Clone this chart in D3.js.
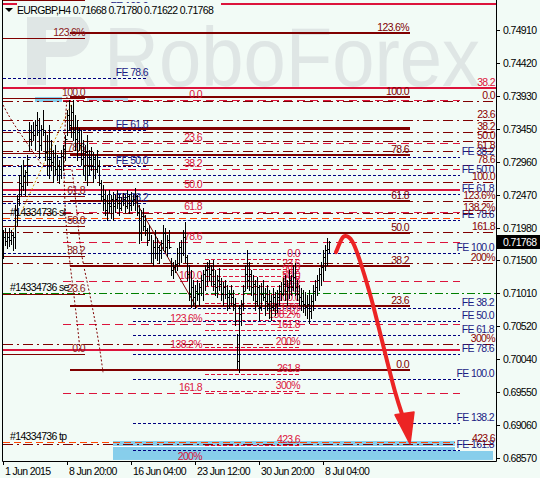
<!DOCTYPE html>
<html><head><meta charset="utf-8">
<script src="https://cdn.jsdelivr.net/npm/d3@7"></script>
<style>
html,body{margin:0;padding:0;background:#f2fbf6;}
svg{display:block;font-family:"Liberation Sans",Arial,sans-serif;}
text{letter-spacing:-0.65px;}
</style></head><body>
<svg id="c" width="540" height="478"></svg>
<script>
// ---------------- DATA ----------------
const symbol = "EURGBP,H4";
const lastOHLC = [0.71668, 0.71780, 0.71622, 0.71768];
const firstOpen = 0.7160;
const barHigh = [
.7195,.7198,.7192,.7198,.7195,.7192,.7232,.7247,.7276,.7291,
.7298,.7284,.7306,.7355,.7350,.7355,.7358,.7369,.7361,.7350,
.7372,.7343,.7335,.7350,.7328,.7313,.7321,.7306,.7298,.7313,
.7321,.7335,.7372,.7387,.7380,.7387,.7365,.7358,.7346,.7343,
.7328,.7321,.7335,.7313,.7317,.7310,.7306,.7313,.7298,.7269,
.7261,.7254,.7247,.7254,.7247,.7251,.7247,.7254,.7247,.7243,
.7250,.7247,.7254,.7246,.7251,.7247,.7257,.7247,.7232,.7224,
.7228,.7217,.7198,.7202,.7187,.7180,.7195,.7183,.7173,.7180,
.7202,.7198,.7187,.7195,.7153,.7147,.7150,.7168,.7177,.7180,
.7195,.7207,.7158,.7143,.7136,.7121,.7113,.7121,.7116,.7128,
.7136,.7143,.7147,.7150,.7143,.7150,.7136,.7128,.7139,.7124,
.7118,.7121,.7113,.7106,.7113,.7106,.7094,.7040,.7084,.7091,
.7113,.7143,.7165,.7147,.7136,.7128,.7121,.7125,.7113,.7116,
.7121,.7109,.7113,.7106,.7099,.7109,.7103,.7106,.7113,.7118,
.7124,.7128,.7121,.7136,.7128,.7143,.7146,.7121,.7113,.7109,
.7106,.7103,.7099,.7106,.7099,.7113,.7121,.7128,.7139,.7147,
.7165,.7173,.7183,.71780];
const barLow = [
.7153,.7173,.7168,.7171,.7174,.7165,.7168,.7202,.7232,.7247,
.7254,.7247,.7261,.7313,.7321,.7328,.7313,.7335,.7301,.7313,
.7335,.7298,.7276,.7272,.7284,.7266,.7276,.7269,.7264,.7272,
.7284,.7298,.7335,.7343,.7332,.7328,.7313,.7298,.7313,.7291,
.7276,.7269,.7261,.7276,.7284,.7266,.7272,.7281,.7261,.7239,
.7224,.7217,.7210,.7221,.7213,.7210,.7221,.7228,.7217,.7224,
.7232,.7221,.7228,.7220,.7224,.7232,.7224,.7217,.7176,.7180,
.7195,.7187,.7173,.7180,.7147,.7143,.7153,.7150,.7146,.7153,
.7165,.7162,.7156,.7168,.7128,.7124,.7133,.7136,.7143,.7147,
.7158,.7147,.7121,.7091,.7081,.7084,.7079,.7091,.7084,.7099,
.7091,.7106,.7113,.7121,.7113,.7106,.7099,.7096,.7106,.7091,
.7084,.7094,.7076,.7079,.7084,.7076,.7054,.6990,.6984,.7054,
.7076,.7106,.7109,.7106,.7099,.7091,.7076,.7084,.7061,.7076,
.7091,.7069,.7076,.7065,.7061,.7076,.7069,.7073,.7084,.7091,
.7099,.7091,.7084,.7094,.7099,.7106,.7099,.7091,.7084,.7076,
.7073,.7069,.7065,.7057,.7065,.7076,.7091,.7099,.7106,.7113,
.7121,.7136,.7143,.71622];
const barClose = [
.7185,.7178,.7185,.7180,.7188,.7185,.7225,.7240,.7265,.7260,
.7275,.7280,.7300,.7330,.7340,.7335,.7350,.7340,.7320,.7345,
.7340,.7310,.7300,.7300,.7295,.7290,.7285,.7290,.7285,.7305,
.7315,.7330,.7365,.7350,.7370,.7340,.7330,.7340,.7320,.7300,
.7290,.7310,.7290,.7300,.7290,.7300,.7285,.7290,.7265,.7245,
.7240,.7225,.7235,.7230,.7240,.7230,.7240,.7235,.7228,.7238,
.7240,.7230,.7245,.7232,.7238,.7240,.7245,.7222,.7190,.7215,
.7200,.7195,.7180,.7190,.7160,.7170,.7160,.7170,.7165,.7175,
.7190,.7170,.7180,.7170,.7135,.7140,.7145,.7160,.7170,.7160,
.7185,.7155,.7130,.7100,.7110,.7095,.7105,.7100,.7110,.7120,
.7130,.7135,.7140,.7130,.7135,.7115,.7110,.7120,.7115,.7100,
.7110,.7100,.7095,.7100,.7095,.7085,.7060,.7000,.7070,.7085,
.7105,.7130,.7120,.7130,.7110,.7115,.7090,.7110,.7080,.7100,
.7095,.7090,.7085,.7090,.7080,.7095,.7085,.7095,.7105,.7100,
.7115,.7105,.7110,.7120,.7110,.7125,.7110,.7100,.7095,.7090,
.7085,.7080,.7085,.7075,.7090,.7105,.7110,.7120,.7130,.7140,
.7155,.7165,.71668,.71768];

const timeTickIndex  = [0, 32, 64, 96, 128, 160];
const timeTickLabels = ["1 Jun 2015","8 Jun 20:00","16 Jun 04:00","23 Jun 12:00","30 Jun 20:00","8 Jul 04:00"];
const priceTicks = [0.74910,0.74420,0.73930,0.73450,0.72960,0.72470,0.71980,0.71500,0.71010,0.70520,0.70040,0.69550,0.69060,0.68570];

// Fibonacci retracement tools: anchors = [price at 0%, price at 100%], span = [from bar, to bar]
const fibMainAnchors = [0.69874, 0.73918];
const fibMainRatios  = [0, 23.6, 38.2, 50, 61.8, 78.6, 88.6, 100, 123.6];
const fibMainLabels  = ["0.0","23.6","38.2","50.0","61.8","78.6","","100.0","123.6%"];
const fibMainSpan    = [33.5, 203.5];

const fibLeftAnchors = [0.70111, 0.73903];
const fibLeftRatios  = [0, 23.6, 38.2, 50, 61.8, 78.6, 100, 123.6, 138.2];
const fibLeftLabels  = ["0.0","23.6","38.2","50.0","61.8","78.6","100.0","123.6%","138.2%"];
const fibLeftSpan    = [0, 41];

const fibRedAnchors  = [0.73873, 0.71192];
const fibRedRatios   = [0, 23.6, 38.2, 50, 61.8, 78.6, 100, 123.6, 138.2, 161.8, 200];
const fibRedLabels   = ["0.0","23.6","38.2","50.0","61.8","78.6","100.0","123.6%","138.2%","161.8","200%"];
const fibRedSpan     = [30, 228.5];
const fibRedLabelAt  = 99.5;
const fibRedSolid    = [50, 138.2];

const fibRightAnchors = [0.73858, 0.72659];
const fibRightRatios  = [0, 23.6, 38.2, 50, 61.8, 78.6, 100, 123.6, 138.2, 161.8, 200, 300, 423.6];
const fibRightLabels  = ["0.0","23.6","38.2","50.0","61.8","78.6","100.0","123.6%","138.2%","161.8","200%","300%","423.6"];
const fibRightSpan    = [0, 246.5];

const fibSmallAnchors = [0.71518, 0.70866];
const fibSmallRatios  = [0, 23.6, 38.2, 50, 61.8, 78.6, 100, 123.6, 138.2, 161.8, 200, 261.8, 300, 423.6];
const fibSmallLabels  = ["0.0","23.6","38.2","50.0","61.8","78.6","100.0","123.6%","138.2%","161.8","200%","261.8","300%","423.6"];
const fibSmallSpan    = [101, 148.5];

// Fibonacci expansions: anchors = [price at FE 0, price at FE 100]
const feLeftAnchors = [0.70600, 0.75177];
const feLeftRatios  = [38.2, 50, 61.8, 78.6, 100];
const feLeftSpan    = [0, 72.5];
const feTopAnchors  = [0.73903, 0.71607];
const feTopRatios   = [38.2, 50, 61.8, 78.6, 100];
const feTopSpan     = [0, 228.5];
const feLowAnchors  = [0.71444, 0.69741];
const feLowRatios   = [38.2, 50, 61.8, 78.6, 100, 138.2, 161.8];
const feLowSpan     = [65, 228.5];

// extra crimson levels
const extraLevelPrices = [0.75295, 0.74052];
const extraLevelLabels = ["", "38.2"];
const extraLevelSpans  = [[0, 246.5], [0, 246.5]];

// order #14334736
const orderId = "#14334736";
const orderEntry = 0.71014, orderSL = 0.72125, orderTP = 0.68807;

// zones [fromBar, toBar, priceTop, priceBottom]
const zones = [[16, 29.5, 0.73918, 0.73844], [42, 62.5, 0.73903, 0.73858],
               [55, 226, 0.68822, 0.68674], [55, 245, 0.68674, 0.68541]];
const zoneSplitPrice = 0.68748;

// trend lines [bar, price]
const trendOrange = [[5, 0.7195], [34.5, 0.7383]];
const trendMaroon = [[66, 0.7239], [97, 0.7079]];
const arcA = [[32,.7392],[30.5,.7328],[30.5,.7254],[32,.7180],[34.5,.7121],[37,.7061],[38.5,.7017]];
const arcB = [[34.5,.7284],[37,.7224],[38.5,.7165],[42.5,.7113],[46,.7061],[48.5,.7017],[50,.6984]];
const arcC = [[0,.7380],[4.5,.7355],[11,.7328],[19.5,.7291]];

// forecast arrow [bar, price]
const forecastPath = [[166.5,.7162],[169.5,.7184],[171,.7187],[174.5,.7183],[178.5,.7150],[183.5,.7101],[187,.7061],[191,.7013],[196,.6953],[200.5,.6913]];
const forecastHead = [[196,.6921],[205.5,.6925],[203.5,.6878]];

// ---------------- DRAW ----------------
const W = 540, H = 478;
const BG = "#f2fbf6";
const FS = 10.5;
const svg = d3.select("#c");
const x = d3.scaleLinear().domain([0, 246.5]).range([3, 496]);
const y = d3.scaleLinear().domain([0.6857, 0.7491]).range([458, 30]);
const Yp = (p, w) => { const v = Math.round(y(p)); return (w % 2 === 1) ? v + 0.5 : v; };

svg.append("rect").attr("width", W).attr("height", H).attr("fill", BG);
svg.append("defs").append("clipPath").attr("id", "clip")
  .append("rect").attr("x", 3).attr("y", 0).attr("width", 493).attr("height", 461);
const g = svg.append("g").attr("clip-path", "url(#clip)");

// watermark
const wm = g.append("g").attr("fill", "#dfe6e5");
wm.append("path").attr("fill-rule", "evenodd")
  .attr("d", "M27,13 H68 A22,22 0 0 1 68,57 H46 V85 H27 Z M46,30 H66 A7,9 0 0 1 66,42 H46 Z");
wm.append("text").attr("x", 104).attr("y", 86).attr("font-size", 84)
  .attr("textLength", 376).attr("lengthAdjust", "spacingAndGlyphs")
  .style("letter-spacing", "0px").text("RoboForex");

// zones
zones.forEach((z, k) => {
  g.append("rect").attr("x", x(z[0])).attr("width", x(z[1]) - x(z[0]))
    .attr("y", y(z[2])).attr("height", y(z[3]) - y(z[2]))
    .attr("fill", k === 1 ? "#b4def0" : "#87ceeb");
});
g.append("line").attr("x1", x(zones[2][0])).attr("x2", x(zones[2][1]))
  .attr("y1", Yp(zoneSplitPrice, 1)).attr("y2", Yp(zoneSplitPrice, 1))
  .attr("stroke", "#ffffff").attr("stroke-width", 1);

function hline(price, from, to, color, width, dash) {
  const yy = Yp(price, width);
  g.append("line").attr("x1", x(from)).attr("x2", x(to)).attr("y1", yy).attr("y2", yy)
    .attr("stroke", color).attr("stroke-width", width)
    .attr("stroke-dasharray", dash || null);
}
const labelsLayer = [];
function label(txt, px, price, color, anchor) {
  if (!txt) return;
  labelsLayer.push({txt, px, py: Yp(price, 1) - 2.5, color, anchor: anchor || "end"});
}
const lev = (a, r) => a[0] + r / 100 * (a[1] - a[0]);

// FE sets (navy dotted)
const NAVY = "#000080", NAVYT = "#1c1c84";
feLeftRatios.forEach(r => { const p = lev(feLeftAnchors, r);
  hline(p, feLeftSpan[0], feLeftSpan[1], NAVY, 1, "3,2");
  label("FE " + r.toFixed(1), x(feLeftSpan[1]), p, NAVYT); });
feTopRatios.forEach(r => { const p = lev(feTopAnchors, r);
  hline(p, feTopSpan[0], feTopSpan[1], NAVY, 1, "3,2");
  label("FE " + r.toFixed(1), 494, p, NAVYT); });
feLowRatios.forEach(r => { const p = lev(feLowAnchors, r);
  hline(p, feLowSpan[0], feLowSpan[1], NAVY, 1, "3,2");
  label("FE " + r.toFixed(1), 494, p, NAVYT); });

// right fibo (maroon dash-dot)
const MAROON = "#800000", CRIMSON = "#dc143c";
fibRightRatios.forEach((r, k) => { const p = lev(fibRightAnchors, r);
  hline(p, fibRightSpan[0], fibRightSpan[1], MAROON, 1, "10,4,2,4");
  label(fibRightLabels[k], 495, p, "#8b0000"); });

// crimson fibo
fibRedRatios.forEach((r, k) => { const p = lev(fibRedAnchors, r);
  if (fibRedSolid.includes(r)) hline(p, 0, fibRedSpan[1], CRIMSON, 2);
  else hline(p, fibRedSpan[0], fibRedSpan[1], CRIMSON, 1, "8,5");
  label(fibRedLabels[k], x(fibRedLabelAt), p, CRIMSON); });

// small crimson fibo
fibSmallRatios.forEach((r, k) => { const p = lev(fibSmallAnchors, r);
  hline(p, fibSmallSpan[0], fibSmallSpan[1], CRIMSON, 1, "4,2");
  label(fibSmallLabels[k], x(fibSmallSpan[1]), p, CRIMSON); });

// extra crimson solid
extraLevelPrices.forEach((p, k) => {
  hline(p, extraLevelSpans[k][0], extraLevelSpans[k][1], CRIMSON, 2);
  label(extraLevelLabels[k], 495, p, CRIMSON); });

// left fibo (thin maroon)
fibLeftRatios.forEach((r, k) => { const p = lev(fibLeftAnchors, r);
  hline(p, fibLeftSpan[0], fibLeftSpan[1], MAROON, 1);
  label(fibLeftLabels[k], x(fibLeftSpan[1]), p, "#8b1a1a"); });

// main fibo (thick maroon)
fibMainRatios.forEach((r, k) => { const p = lev(fibMainAnchors, r);
  hline(p, fibMainSpan[0], fibMainSpan[1], MAROON, r === 88.6 ? 3 : 2);
  label(fibMainLabels[k], x(fibMainSpan[1]) - 1, p, MAROON); });

// order lines
hline(orderEntry, 0, 246.5, "#008000", 1, "8,3,2,3");
hline(orderSL, 0, 228.5, "#ff4500", 1, "7,4");
hline(orderTP, 0, 226, "#ff4500", 1, "7,4");
label(orderId + " se", 10, orderEntry, "#000", "start");
label(orderId + " sl", 10, orderSL, "#000", "start");
label(orderId + " tp", 10, orderTP, "#000", "start");

// trend lines & arcs
const lineGen = d3.line().x(d => x(d[0])).y(d => y(d[1]));
g.append("path").attr("d", lineGen(trendOrange)).attr("fill", "none")
  .attr("stroke", "#d4900c").attr("stroke-width", 1).attr("stroke-dasharray", "2,2");
g.append("path").attr("d", lineGen(trendMaroon)).attr("fill", "none")
  .attr("stroke", MAROON).attr("stroke-width", 1);
const curveGen = d3.line().x(d => x(d[0])).y(d => y(d[1])).curve(d3.curveBasis);
[arcA, arcB, arcC].forEach(a => g.append("path").attr("d", curveGen(a)).attr("fill", "none")
  .attr("stroke", MAROON).attr("stroke-width", 1).attr("stroke-dasharray", "2,2"));

// labels
g.append("g").selectAll("text").data(labelsLayer).join("text")
  .attr("x", d => d.px).attr("y", d => d.py).attr("text-anchor", d => d.anchor)
  .attr("font-size", FS).attr("fill", d => d.color).text(d => d.txt);

// OHLC bars
const bars = barHigh.map((h, i) => ({i, h, l: barLow[i], c: barClose[i], o: i === 0 ? firstOpen : barClose[i - 1]}));
const bg = g.append("g").attr("stroke", "#000").attr("stroke-width", 1);
bars.forEach(b => {
  const bx = Math.round(x(b.i)) + 0.5;
  bg.append("line").attr("x1", bx).attr("x2", bx).attr("y1", Math.round(y(b.h))).attr("y2", Math.round(y(b.l)) + 1);
  bg.append("line").attr("x1", bx - 1.5).attr("x2", bx).attr("y1", Yp(b.o, 1)).attr("y2", Yp(b.o, 1));
  bg.append("line").attr("x1", bx).attr("x2", bx + 1.5).attr("y1", Yp(b.c, 1)).attr("y2", Yp(b.c, 1));
});

// forecast arrow
g.append("path").attr("d", curveGen(forecastPath)).attr("fill", "none")
  .attr("stroke", "#ec2424").attr("stroke-width", 4).attr("stroke-linecap", "round");
g.append("path").attr("d", d3.line().x(d => x(d[0])).y(d => y(d[1]))(forecastHead) + "Z")
  .attr("fill", "#ec2424").attr("stroke", "#ec2424").attr("stroke-width", 1.5).attr("stroke-linejoin", "round");

// header
svg.append("rect").attr("x", 17).attr("y", 3).attr("width", 204).attr("height", 14).attr("fill", BG);
svg.append("rect").attr("x", 3).attr("y", 7).attr("width", 14).attr("height", 10).attr("fill", BG);
svg.append("path").attr("d", "M5,8 H13 L9,12 Z").attr("fill", "#000");
svg.append("text").attr("x", 17).attr("y", 14).attr("font-size", FS).attr("fill", "#000")
  .text(symbol + "  " + lastOHLC.map(v => v.toFixed(5)).join(" "));

// axes frame
svg.append("line").attr("x1", 496.5).attr("x2", 496.5).attr("y1", 0).attr("y2", 461.5).attr("stroke", "#000");
svg.append("line").attr("x1", 2.5).attr("x2", 2.5).attr("y1", 0).attr("y2", 461.5).attr("stroke", "#000");
svg.append("line").attr("x1", 2.5).attr("x2", 496.5).attr("y1", 461.5).attr("y2", 461.5).attr("stroke", "#000");

const ya = svg.append("g");
priceTicks.forEach(v => {
  const yy = Math.round(y(v)) + 0.5;
  ya.append("line").attr("x1", 496).attr("x2", 500).attr("y1", yy).attr("y2", yy).attr("stroke", "#000");
  ya.append("text").attr("x", 503).attr("y", yy + 3.5).attr("font-size", FS).attr("fill", "#000").text(v.toFixed(5));
});
// current price box
const cy = Math.round(y(lastOHLC[3]));
svg.append("rect").attr("x", 497).attr("y", cy - 7).attr("width", 43).attr("height", 14).attr("fill", "#000");
svg.append("text").attr("x", 503).attr("y", cy + 4).attr("font-size", FS).attr("fill", "#fff").text(lastOHLC[3].toFixed(5));

const xa = svg.append("g");
timeTickIndex.forEach((t, k) => {
  const xx = Math.round(x(t)) + 0.5;
  xa.append("line").attr("x1", xx).attr("x2", xx).attr("y1", 461).attr("y2", 465).attr("stroke", "#000");
  xa.append("text").attr("x", xx + 1.5).attr("y", 475).attr("font-size", FS).attr("fill", "#000").text(timeTickLabels[k]);
});
</script>
</body></html>
